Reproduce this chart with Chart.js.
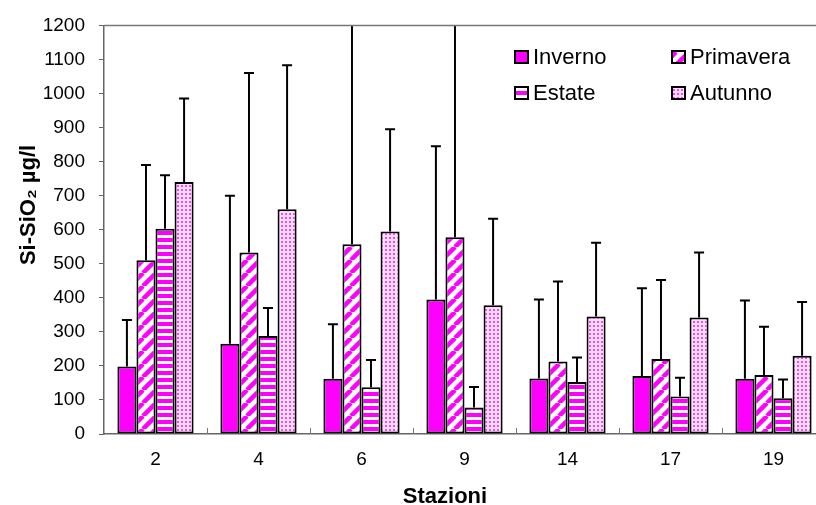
<!DOCTYPE html>
<html>
<head>
<meta charset="utf-8">
<script src="https://cdn.jsdelivr.net/npm/chart.js@4"></script>
<style>
html,body{margin:0;padding:0;background:#fff;overflow:hidden;}
#wrap{width:830px;height:505px;position:relative;}
</style>
</head>
<body>
<div id="wrap"><canvas id="c"></canvas></div>
<script>
const categories = ['2','4','6','9','14','17','19'];
const seriesNames = ['Inverno','Primavera','Estate','Autunno'];
const inverno   = [198, 265, 162, 395, 163, 170, 162];
const primavera = [510, 533, 557, 578, 213, 220, 173];
const estate    = [603, 288, 137,  78, 153, 110, 105];
const autunno   = [740, 660, 595, 378, 345, 342, 230];
const invernoErr   = [335, 700, 322, 845, 395, 428, 392];
const primaveraErr = [790, 1060, 1300, 1300, 448, 452, 315];
const estateErr    = [760, 370, 217, 138, 225, 165, 160];
const autunnoErr   = [985, 1083, 895, 632, 562, 533, 388];
const yTicks = [0,100,200,300,400,500,600,700,800,900,1000,1100,1200];

const MAG = '#FF00FF';
const FONT = '"Liberation Sans", Arial, sans-serif';

function makePattern(draw, w, h){
  const c = document.createElement('canvas');
  c.width = w; c.height = h;
  const g = c.getContext('2d');
  draw(g, w, h);
  return g.createPattern(c, 'repeat');
}
const patDiag = makePattern((g,w,h)=>{
  g.fillStyle='#fff'; g.fillRect(0,0,w,h);
  g.strokeStyle=MAG; g.lineWidth=4.5;
  for(let k=-1;k<=1;k++){
    g.beginPath(); g.moveTo(k*w, h); g.lineTo(k*w+w, 0); g.stroke();
  }
},13,13);
const patHoriz = makePattern((g,w,h)=>{
  g.fillStyle='#fff'; g.fillRect(0,0,w,h);
  g.fillStyle=MAG; g.fillRect(0,0,w,4);
},6,7);
const patDots = makePattern((g,w,h)=>{
  g.fillStyle='#FFE0FF'; g.fillRect(0,0,w,h);
  g.fillStyle='#FF40FF'; g.fillRect(1,1,2,2);
},4,4);

const fills = [MAG, patDiag, patHoriz, patDots];
const values = [inverno, primavera, estate, autunno];
const errs = [invernoErr, primaveraErr, estateErr, autunnoErr];

const datasets = seriesNames.map((n,i)=>({
  label:n, data:values[i], backgroundColor:fills[i],
  borderColor:'#000', borderWidth:2, borderSkipped:false,
  categoryPercentage:0.74, barPercentage:1.0
}));

const extras = {
  id:'extras',
  afterDatasetsDraw(chart){
    const ctx = chart.ctx, ca = chart.chartArea, y = chart.scales.y;
    ctx.save();
    ctx.beginPath(); ctx.rect(ca.left, ca.top, ca.right-ca.left, ca.bottom-ca.top); ctx.clip();
    ctx.strokeStyle='#000'; ctx.lineWidth=2;
    chart.data.datasets.forEach((ds,di)=>{
      const meta = chart.getDatasetMeta(di);
      meta.data.forEach((bar,i)=>{
        const yt = y.getPixelForValue(errs[di][i]);
        ctx.beginPath();
        ctx.moveTo(bar.x, bar.y); ctx.lineTo(bar.x, yt);
        ctx.moveTo(bar.x-5, yt); ctx.lineTo(bar.x+5, yt);
        ctx.stroke();
      });
    });
    ctx.restore();
  },
  afterDraw(chart){
    const ctx = chart.ctx, ca = chart.chartArea, x = chart.scales.x;
    ctx.save();
    // top border
    ctx.strokeStyle='#777'; ctx.lineWidth=1.5;
    ctx.beginPath(); ctx.moveTo(ca.left, ca.top); ctx.lineTo(ca.right, ca.top); ctx.stroke();
    // inward x ticks between categories
    ctx.lineWidth=1;
    for(let i=1;i<categories.length;i++){
      const px = Math.round((x.getPixelForTick(i-1)+x.getPixelForTick(i))/2)+0.5;
      ctx.beginPath(); ctx.moveTo(px, ca.bottom); ctx.lineTo(px, ca.bottom-6); ctx.stroke();
    }
    // legend
    ctx.font = '22px '+FONT;
    ctx.textBaseline='middle';
    const pos = [[515,57],[672,57],[515,93],[672,93]];
    seriesNames.forEach((n,i)=>{
      const [lx,ly]=pos[i];
      ctx.fillStyle=fills[i];
      ctx.fillRect(lx, ly-6, 13, 12);
      ctx.strokeStyle='#000'; ctx.lineWidth=2;
      ctx.strokeRect(lx, ly-6, 13, 12);
      ctx.fillStyle='#000';
      ctx.fillText(n, lx+18, ly+1);
    });
    // axis titles
    ctx.fillStyle='#000';
    ctx.font='bold 22px '+FONT;
    ctx.textAlign='center'; ctx.textBaseline='alphabetic';
    ctx.fillText('Stazioni', 445, 503);
    ctx.save();
    ctx.translate(35, 205); ctx.rotate(-Math.PI/2);
    ctx.fillText('Si-SiO\u2082 \u00B5g/l', 0, 0);
    ctx.restore();
    ctx.restore();
  }
};

new Chart(document.getElementById('c'), {
  type:'bar',
  data:{labels:categories, datasets},
  options:{
    responsive:true, maintainAspectRatio:false, animation:false,
    layout:{padding:{top:18,right:5,left:0,bottom:0}},
    plugins:{legend:{display:false}, tooltip:{enabled:false}},
    scales:{
      x:{
        grid:{display:true, drawOnChartArea:false, drawTicks:false},
        border:{display:true, color:'#666', width:1.5},
        ticks:{color:'#000', font:{family:FONT, size:19}, padding:14},
        afterFit(s){ s.height = 71; }
      },
      y:{
        min:0, max:1200,
        afterBuildTicks(s){ s.ticks = yTicks.map(v=>({value:v})); },
        grid:{display:true, drawOnChartArea:false, drawTicks:true, tickLength:5, color:'#666'},
        border:{display:true, color:'#666', width:1.5},
        ticks:{color:'#000', font:{family:FONT, size:19}, padding:14,
               callback:(v)=>String(v)},
        afterFit(s){ s.width = 104; }
      }
    }
  },
  plugins:[extras]
});
</script>
</body>
</html>
